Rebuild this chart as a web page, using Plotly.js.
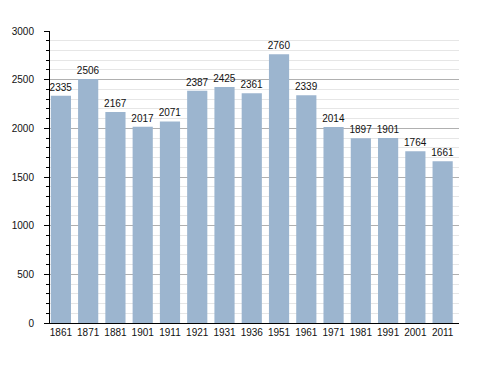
<!DOCTYPE html>
<html>
<head>
<meta charset="utf-8">
<script src="https://cdn.plot.ly/plotly-3.0.1.min.js"></script>
<style>html,body{margin:0;padding:0;background:#fff;}#chart{width:488px;height:373px;}</style>
</head>
<body>
<div id="chart"></div>
<script>
const years = ["1861","1871","1881","1901","1911","1921","1931","1936","1951","1961","1971","1981","1991","2001","2011"];
const population = [2335,2506,2167,2017,2071,2387,2425,2361,2760,2339,2014,1897,1901,1764,1661];

const trace = {
  type: 'bar',
  x: years,
  y: population,
  width: 0.74,
  marker: {color: '#9cb5cf', line: {width: 0}},
  text: population.map(String),
  textposition: 'outside',
  constraintext: 'none',
  cliponaxis: false,
  textfont: {family: 'Liberation Sans, Arial, sans-serif', size: 10, color: '#111'},
  hoverinfo: 'none'
};

const layout = {
  width: 488, height: 373,
  margin: {l: 50, r: 29, t: 31, b: 50},
  paper_bgcolor: '#fff', plot_bgcolor: '#fff',
  showlegend: false,
  font: {family: 'Liberation Sans, Arial, sans-serif', size: 10, color: '#111'},
  xaxis: {
    type: 'category',
    range: [-0.4, 14.6],
    showline: true, linecolor: '#000', linewidth: 1,
    ticks: '', showgrid: false, zeroline: false,
    tickfont: {size: 10, color: '#111'},
    fixedrange: true
  },
  yaxis: {
    range: [0, 3000],
    tickvals: [0,500,1000,1500,2000,2500,3000],
    showline: true, linecolor: '#000', linewidth: 1,
    ticks: 'outside', ticklen: 5, tickcolor: '#000', tickwidth: 1,
    ticklabelstandoff: 8,
    showgrid: true, gridcolor: '#b0b0b0', gridwidth: 1,
    zeroline: false,
    minor: {dtick: 100, ticks: 'outside', ticklen: 3, tickcolor: '#000', showgrid: true, gridcolor: '#e6e6e6', gridwidth: 1},
    tickfont: {size: 10, color: '#111'},
    fixedrange: true
  }
};

Plotly.newPlot('chart', [trace], layout, {staticPlot: true, displayModeBar: false});
</script>
</body>
</html>
